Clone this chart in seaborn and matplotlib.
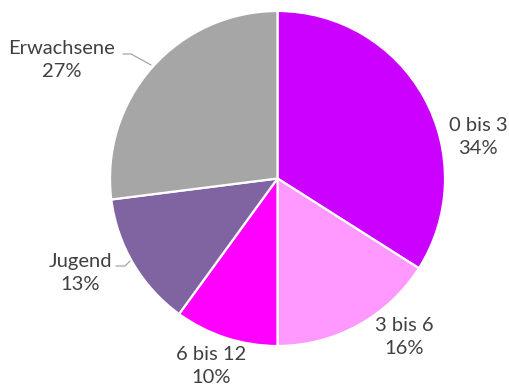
import matplotlib
matplotlib.use("Agg")
import matplotlib.pyplot as plt
import seaborn as sns
import numpy as np

# Age groups and their share
categories = ["0 bis 3", "3 bis 6", "6 bis 12", "Jugend", "Erwachsene"]
shares = [34, 16, 10, 13, 27]
colors = ["#CC00FF", "#FF99FF", "#FF00FF", "#8064A2", "#A6A6A6"]

sns.set_theme(style="white")
plt.rcParams["font.family"] = ["Lato", "DejaVu Sans"]

W, H = 509, 390
fig = plt.figure(figsize=(W / 100, H / 100), dpi=100)
ax = fig.add_axes([0, 0, 1, 1])

# pie centre and radius in pixels
cx, cy, R = 277.5, 178.5, 167.5

wedges, _ = ax.pie(
    shares,
    colors=colors,
    startangle=90,
    counterclock=False,
    radius=1.0,
    wedgeprops=dict(edgecolor="white", linewidth=1.6),
)
ax.set_xlim(-cx / R, (W - cx) / R)
ax.set_ylim(-(H - cy) / R, cy / R)
ax.set_aspect("auto")
ax.axis("off")

# label centres in pixels
label_px = {
    "0 bis 3": (478, 137),
    "3 bis 6": (404, 337),
    "6 bis 12": (211, 366),
    "Jugend": (80, 273),
    "Erwachsene": (62, 60),
}

def px(u, v):
    return (u - cx) / R, (cy - v) / R

for name, val in zip(categories, shares):
    x, y = px(*label_px[name])
    ax.text(x, y, f"{name}\n{val}%", ha="center", va="center",
            fontsize=14.5, color="#404040", linespacing=1.42)

# leader lines for the two labels on the left
for pts in ([(123, 54), (131, 54), (151, 65)],
            [(116, 266), (125, 266), (130, 261)]):
    xs, ys = zip(*[px(*p) for p in pts])
    ax.plot(xs, ys, color="#A6A6A6", linewidth=0.9)

fig.savefig("out.png", dpi=100)
